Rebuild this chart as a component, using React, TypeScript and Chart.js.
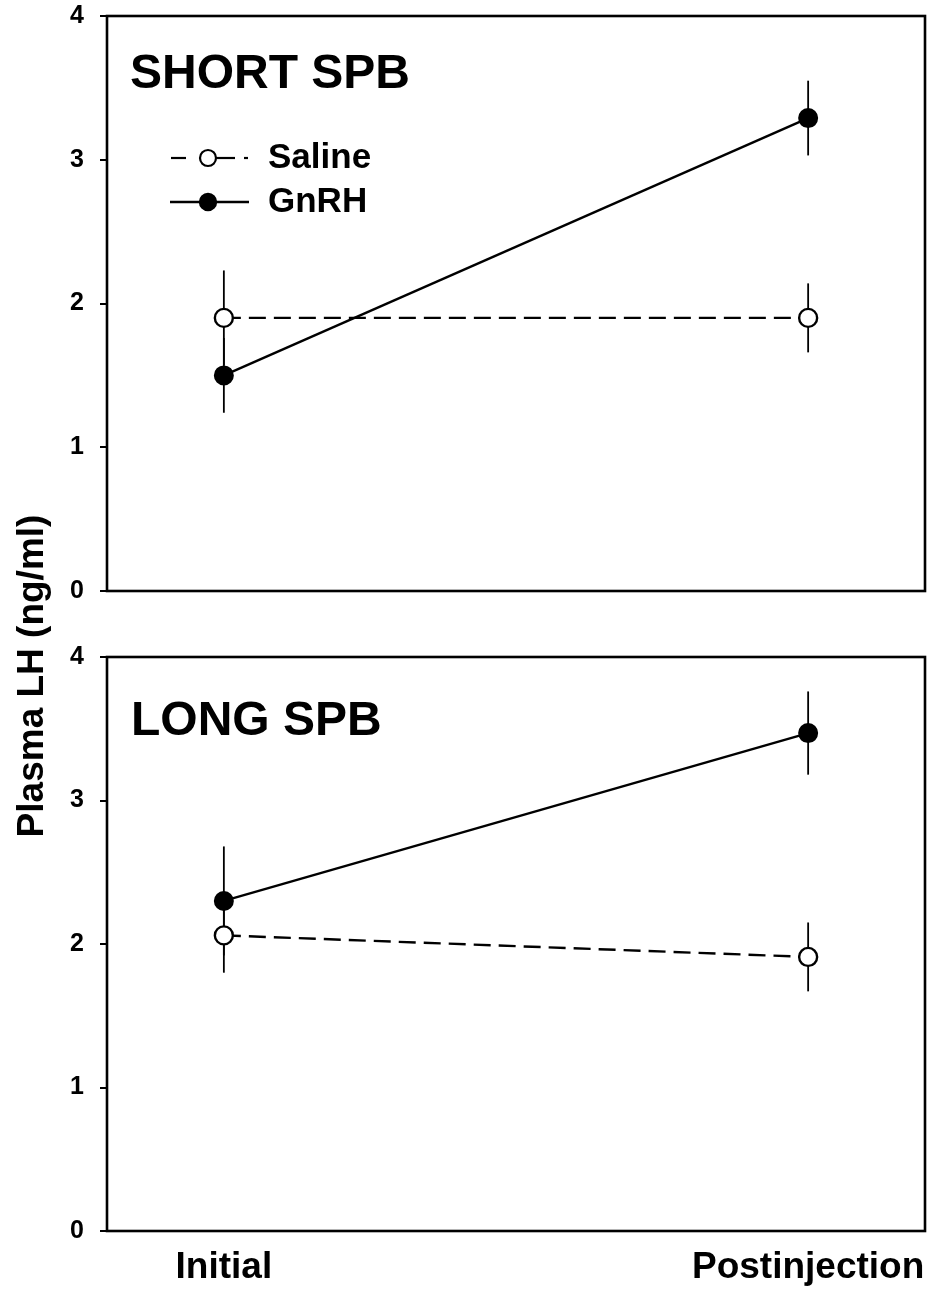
import React, { useEffect, useRef } from "react";
import { Chart, registerables } from "chart.js";

Chart.register(...registerables);

const categories = ["Initial", "Postinjection"];
const yTickValues = [0, 1, 2, 3, 4];
const seriesNames = ["Saline", "GnRH"];

const shortSaline = [1.9, 1.9];
const shortSalineErr = [0.33, 0.24];
const shortGnrh = [1.5, 3.29];
const shortGnrhErr = [0.26, 0.26];

const longSaline = [2.06, 1.91];
const longSalineErr = [0.26, 0.24];
const longGnrh = [2.3, 3.47];
const longGnrhErr = [0.38, 0.29];

const panelTitles = ["SHORT SPB", "LONG SPB"];
const yTitle = "Plasma LH (ng/ml)";

const FONT = "'Liberation Sans', Arial, Helvetica, sans-serif";

function toPoints(vals: number[]) {
  return vals.map((v, i) => ({ x: i, y: v }));
}

function errorPlugin(errs: number[][]) {
  return {
    id: "errbars",
    beforeDatasetsDraw(chart: any) {
      const { ctx } = chart;
      const x = chart.scales.x;
      const y = chart.scales.y;
      ctx.save();
      ctx.strokeStyle = "#000";
      ctx.lineWidth = 1.8;
      chart.data.datasets.forEach((ds: any, di: number) => {
        ds.data.forEach((pt: any, i: number) => {
          const e = errs[di][i];
          const px = x.getPixelForValue(pt.x);
          ctx.beginPath();
          ctx.moveTo(px, y.getPixelForValue(pt.y + e));
          ctx.lineTo(px, y.getPixelForValue(pt.y - e));
          ctx.stroke();
        });
      });
      ctx.restore();
    },
  };
}

const boxPlugin = {
  id: "box",
  afterDraw(chart: any) {
    const { ctx, chartArea: a } = chart;
    ctx.save();
    ctx.strokeStyle = "#000";
    ctx.lineWidth = 2.6;
    ctx.strokeRect(a.left, a.top, a.right - a.left, a.bottom - a.top);
    ctx.restore();
  },
};

function titlePlugin(text: string, x: number, baseline: number) {
  return {
    id: "paneltitle",
    afterDraw(chart: any) {
      const { ctx } = chart;
      ctx.save();
      ctx.fillStyle = "#000";
      ctx.font = `bold 48px ${FONT}`;
      ctx.textAlign = "left";
      ctx.textBaseline = "alphabetic";
      ctx.fillText(text, x, baseline);
      ctx.restore();
    },
  };
}

const legendPlugin = {
  id: "customlegend",
  afterDraw(chart: any) {
    const { ctx } = chart;
    ctx.save();
    ctx.strokeStyle = "#000";
    ctx.fillStyle = "#000";
    // Saline
    const y1 = 158;
    ctx.lineWidth = 2.2;
    [
      [171, 186],
      [216, 235],
      [244, 248],
    ].forEach(([a, b]) => {
      ctx.beginPath();
      ctx.moveTo(a, y1);
      ctx.lineTo(b, y1);
      ctx.stroke();
    });
    ctx.beginPath();
    ctx.arc(208, y1, 8, 0, Math.PI * 2);
    ctx.fillStyle = "#fff";
    ctx.fill();
    ctx.lineWidth = 2.2;
    ctx.stroke();
    // GnRH
    const y2 = 202;
    ctx.lineWidth = 2.4;
    ctx.beginPath();
    ctx.moveTo(170, y2);
    ctx.lineTo(249, y2);
    ctx.stroke();
    ctx.beginPath();
    ctx.arc(208, y2, 8, 0, Math.PI * 2);
    ctx.fillStyle = "#000";
    ctx.fill();
    ctx.stroke();
    // texts
    ctx.fillStyle = "#000";
    ctx.font = `bold 35px ${FONT}`;
    ctx.textAlign = "left";
    ctx.textBaseline = "alphabetic";
    ctx.fillText(seriesNames[0], 268, 168);
    ctx.fillText(seriesNames[1], 268, 212);
    ctx.restore();
  },
};

const yTitlePlugin = {
  id: "ytitle",
  afterDraw(chart: any) {
    const { ctx } = chart;
    ctx.save();
    ctx.translate(43, 676);
    ctx.rotate(-Math.PI / 2);
    ctx.fillStyle = "#000";
    ctx.font = `bold 37px ${FONT}`;
    ctx.textAlign = "center";
    ctx.textBaseline = "alphabetic";
    ctx.fillText(yTitle, 0, 0);
    ctx.restore();
  },
};

function makeConfig(
  saline: number[],
  gnrh: number[],
  showX: boolean,
  xHeight: number,
  padTop: number,
  plugins: any[]
): any {
  return {
    type: "line",
    data: {
      datasets: [
        {
          label: seriesNames[0],
          data: toPoints(saline),
          borderColor: "#000",
          borderWidth: 2.4,
          borderDash: [17, 8],
          pointRadius: 9,
          pointBackgroundColor: "#fff",
          pointBorderColor: "#000",
          pointBorderWidth: 2.4,
          tension: 0,
          fill: false,
        },
        {
          label: seriesNames[1],
          data: toPoints(gnrh),
          borderColor: "#000",
          borderWidth: 2.4,
          pointRadius: 9,
          pointBackgroundColor: "#000",
          pointBorderColor: "#000",
          pointBorderWidth: 2,
          tension: 0,
          fill: false,
        },
      ],
    },
    options: {
      animation: false,
      responsive: false,
      maintainAspectRatio: false,
      layout: {
        autoPadding: false,
        padding: { top: padTop, right: 7, left: 0, bottom: 0 },
      },
      plugins: { legend: { display: false }, tooltip: { enabled: false } },
      scales: {
        x: {
          type: "linear",
          min: -0.2,
          max: 1.2,
          grid: { display: false },
          border: { display: false },
          afterBuildTicks: (scale: any) => {
            scale.ticks = categories.map((_, i) => ({ value: i }));
          },
          afterFit: (scale: any) => {
            scale.height = xHeight;
            scale.paddingLeft = 0;
            scale.paddingRight = 0;
          },
          ticks: {
            display: showX,
            autoSkip: false,
            maxRotation: 0,
            padding: 7,
            color: "#000",
            font: { family: FONT, size: 37, weight: "bold" },
            callback: (v: any) => categories[v] ?? "",
          },
        },
        y: {
          min: 0,
          max: 4,
          afterBuildTicks: (scale: any) => {
            scale.ticks = yTickValues.map((v) => ({ value: v }));
          },
          afterFit: (scale: any) => {
            scale.width = 107;
            scale.paddingTop = 0;
            scale.paddingBottom = 0;
          },
          grid: {
            display: true,
            drawOnChartArea: false,
            drawTicks: true,
            tickLength: 7,
            color: "#000",
            lineWidth: 2,
          },
          border: { display: false },
          ticks: {
            padding: 16,
            color: "#000",
            font: { family: FONT, size: 25, weight: "bold" },
            callback: (v: any) => String(v),
          },
        },
      },
    },
    plugins,
  };
}

export default function App() {
  const topRef = useRef<HTMLCanvasElement>(null);
  const botRef = useRef<HTMLCanvasElement>(null);

  useEffect(() => {
    document.body.style.margin = "0";
    const bottom = new Chart(
      botRef.current as HTMLCanvasElement,
      makeConfig(longSaline, longGnrh, true, 68, 657, [
        errorPlugin([longSalineErr, longGnrhErr]),
        boxPlugin,
        titlePlugin(panelTitles[1], 131, 735),
        yTitlePlugin,
      ])
    );
    const top = new Chart(
      topRef.current as HTMLCanvasElement,
      makeConfig(shortSaline, shortGnrh, false, 49, 16, [
        errorPlugin([shortSalineErr, shortGnrhErr]),
        boxPlugin,
        titlePlugin(panelTitles[0], 130, 88),
        legendPlugin,
      ])
    );
    return () => {
      top.destroy();
      bottom.destroy();
    };
  }, []);

  return (
    <div
      style={{
        position: "absolute",
        left: 0,
        top: 0,
        width: 932,
        height: 1299,
        background: "#fff",
      }}
    >
      <canvas
        ref={botRef}
        width={932}
        height={1299}
        style={{ position: "absolute", left: 0, top: 0 }}
      />
      <canvas
        ref={topRef}
        width={932}
        height={640}
        style={{ position: "absolute", left: 0, top: 0 }}
      />
    </div>
  );
}
